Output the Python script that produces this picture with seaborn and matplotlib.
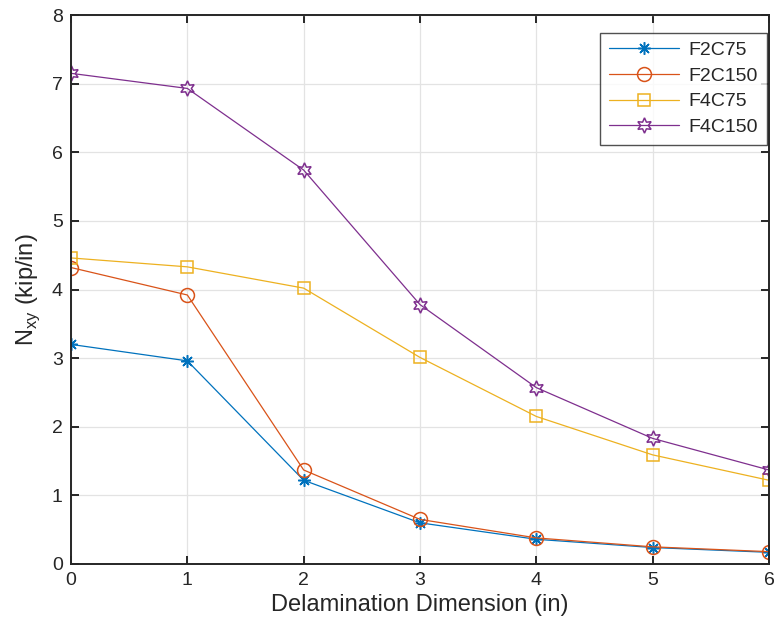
import numpy as np
import pandas as pd
import matplotlib
matplotlib.use("Agg")
import matplotlib.pyplot as plt
import seaborn as sns

x_vals = [0, 1, 2, 3, 4, 5, 6]
series_names = ["F2C75", "F2C150", "F4C75", "F4C150"]
f2c75 = [3.20, 2.96, 1.22, 0.60, 0.36, 0.24, 0.17]
f2c150 = [4.32, 3.92, 1.37, 0.65, 0.38, 0.25, 0.18]
f4c75 = [4.46, 4.33, 4.02, 3.01, 2.15, 1.59, 1.22]
f4c150 = [7.15, 6.93, 5.74, 3.78, 2.57, 1.83, 1.37]
x_ticks = [0, 1, 2, 3, 4, 5, 6]
y_ticks = [0, 1, 2, 3, 4, 5, 6, 7, 8]

colors = ["#0072BD", "#D95319", "#EDB120", "#7E2F8E"]
markers = [(8, 2, 0), "o", "s", (6, 1, 0)]
msizes = [9, 10, 8, 11]

sns.set_theme(style="white")
plt.rcParams["font.family"] = ["Liberation Sans", "DejaVu Sans"]
plt.rcParams["mathtext.fontset"] = "custom"
plt.rcParams["mathtext.rm"] = "Liberation Sans"

df = pd.DataFrame({
    "x": x_vals * 4,
    "y": f2c75 + f2c150 + f4c75 + f4c150,
    "series": [n for n in series_names for _ in x_vals],
})

fig = plt.figure(figsize=(7.74, 6.32), dpi=100)
ax = fig.add_axes([71/774, 1-564/632, (769-71)/774, (564-15)/632])

for name, c, m, ms in zip(series_names, colors, markers, msizes):
    sub = df[df["series"] == name]
    sns.lineplot(data=sub, x="x", y="y", ax=ax, color=c, marker=m,
                 markersize=ms, markerfacecolor="none", markeredgecolor=c,
                 markeredgewidth=1.1, linewidth=0.9, label=name, sort=False)

ax.set_xlim(0, 6)
ax.set_ylim(0, 8)
ax.set_xticks(x_ticks)
ax.set_yticks(y_ticks)
ax.grid(True, color="#e3e3e3", linewidth=0.9)
ax.set_axisbelow(True)
for s in ax.spines.values():
    s.set_visible(True)
    s.set_color("#262626")
    s.set_linewidth(1.4)
ax.tick_params(direction="in", length=6, width=1.4, colors="#262626",
               labelsize=14, top=True, right=True, bottom=True, left=True,
               labelcolor="#262626", pad=6)
ax.set_xlabel("Delamination Dimension (in)", fontsize=17, color="#262626", labelpad=3)
ax.set_ylabel(r"N$_{\mathregular{xy}}$ (kip/in)", fontsize=17, color="#262626", labelpad=7)

leg = ax.legend(loc="upper right", bbox_to_anchor=(0.997, 0.968), fontsize=14,
                frameon=True, fancybox=False, edgecolor="#262626",
                handlelength=3.6, handletextpad=0.5, borderpad=0.45,
                labelspacing=0.42, borderaxespad=0)
leg.get_frame().set_linewidth(1.0)

fig.savefig("out.png", dpi=100)
